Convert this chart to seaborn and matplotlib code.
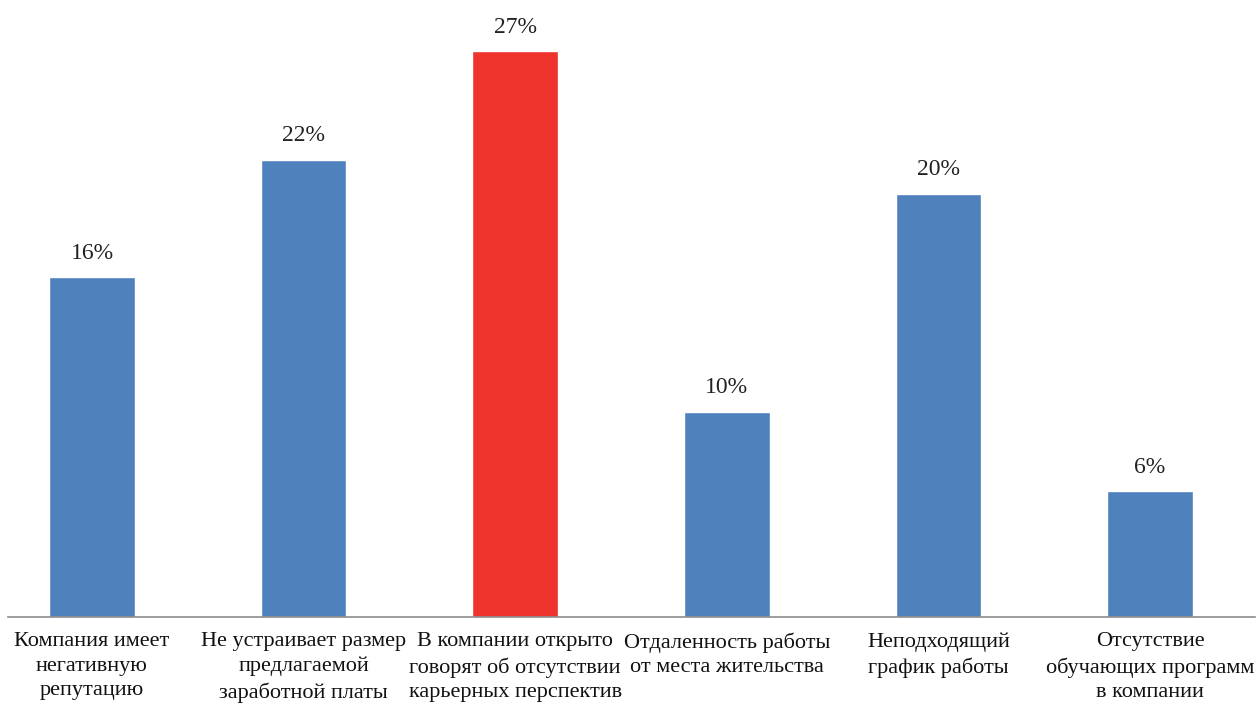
import matplotlib
matplotlib.use("Agg")
import matplotlib.pyplot as plt
import seaborn as sns
import pandas as pd

categories = [
    "Компания имеет\nнегативную\nрепутацию",
    "Не устраивает размер\nпредлагаемой\nзаработной платы",
    "В компании открыто\nговорят об отсутствии\nкарьерных перспектив",
    "Отдаленность работы\nот места жительства",
    "Неподходящий\nграфик работы",
    "Отсутствие\nобучающих программ\nв компании",
]
values = [16.2, 21.8, 27.0, 9.8, 20.2, 6.0]
labels = ["16%", "22%", "27%", "10%", "20%", "6%"]
colors = ["#4F81BD", "#4F81BD", "#EE342C", "#4F81BD", "#4F81BD", "#4F81BD"]

sns.set_theme(style="white")
plt.rcParams["font.family"] = ["Liberation Serif", "DejaVu Serif"]

W, H = 1258, 704
fig = plt.figure(figsize=(W / 100, H / 100), dpi=100)
ax = fig.add_axes([8 / W, (H - 617) / H, (1255 - 8) / W, 617 / H])

df = pd.DataFrame({"cat": categories, "val": values})
sns.barplot(data=df, x="cat", y="val", hue="cat", palette=colors, legend=False,
            width=0.405, ax=ax, saturation=1)

ax.set_xlim(-0.397, 5.496)
ax.set_ylim(0, 29.44)
ax.set_xlabel("")
ax.set_ylabel("")
ax.set_yticks([])
ax.set_xticks(range(len(categories)))
ax.set_xticklabels(categories, fontsize=16, linespacing=1.38, color="#111111")
ax.tick_params(axis="x", length=0, pad=11)
for s in ["top", "left", "right"]:
    ax.spines[s].set_visible(False)
ax.spines["bottom"].set_color("#8C8C8C")
ax.spines["bottom"].set_linewidth(1.2)

for i, (v, lab) in enumerate(zip(values, labels)):
    ax.text(i, v + 0.65, lab, ha="center", va="bottom", fontsize=17, color="#222222")

fig.savefig("out.png", dpi=100)
